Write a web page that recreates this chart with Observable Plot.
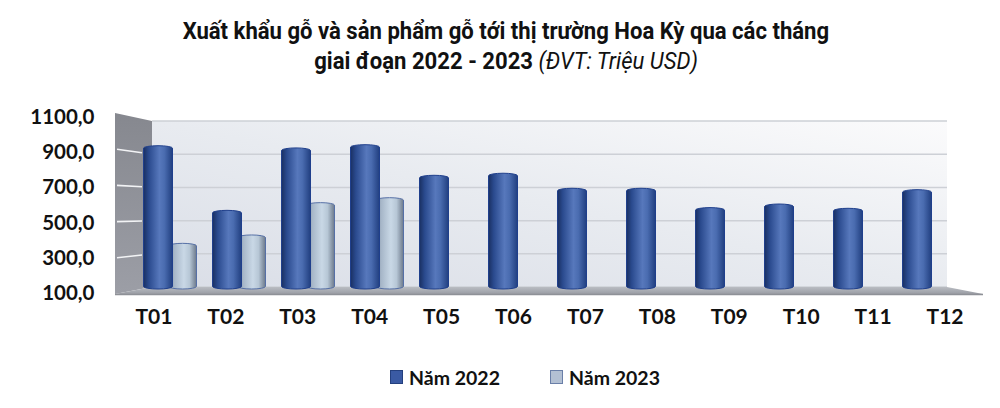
<!DOCTYPE html>
<html>
<head>
<meta charset="utf-8">
<script src="https://cdn.jsdelivr.net/npm/d3@7"></script>
<script src="https://cdn.jsdelivr.net/npm/@observablehq/plot@0.6"></script>
<style>
  body { margin: 0; background: #fff; width: 1000px; height: 408px; overflow: hidden; }
  #title { height: 88px; box-sizing: border-box; padding-top: 16px; padding-left: 12px; text-align: center;
           font-family: Roboto, sans-serif; font-weight: 700; font-size: 23.5px; line-height: 30px; color: #111; }
  #title .t { display: inline-block; transform: scaleX(0.94); white-space: nowrap; }
  #title i { font-weight: 400; }
  #chart svg { display: block; }
  #legend { height: 54px; box-sizing: border-box; padding-left: 50px; display: flex; justify-content: center;
            align-items: center; gap: 50px; font: 700 19.5px Lato, sans-serif; color: #111; }
  #legend .item { display: flex; align-items: center; gap: 6px; }
  #legend .sw { width: 13px; height: 14px; box-sizing: border-box; border: 1px solid; }
</style>
</head>
<body>
<div id="title">
  <span class="t">Xuất khẩu gỗ và sản phẩm gỗ tới thị trường Hoa Kỳ qua các tháng</span><br>
  <span class="t">giai đoạn 2022 - 2023 <i>(ĐVT: Triệu USD)</i></span>
</div>
<div id="chart"></div>
<div id="legend">
  <div class="item"><span class="sw" style="background:#3a5aa3;border-color:#24407e"></span>Năm 2022</div>
  <div class="item"><span class="sw" style="background:#b3c0d3;border-color:#6a7fa8"></span>Năm 2023</div>
</div>
<script>
// ---- data ----
const months = ["T01","T02","T03","T04","T05","T06","T07","T08","T09","T10","T11","T12"];
const values2022 = [938, 560, 925, 944, 765, 777, 689, 689, 576, 597, 572, 681];
const values2023 = [367, 416, 605, 634];
const yTicks = [100, 300, 500, 700, 900, 1100];

const rows2022 = months.map((m, i) => ({month: m, value: values2022[i]}));
const rows2023 = values2023.map((v, i) => ({month: months[i], value: v}));

// perspective helpers (3D look): stretch positions around a fixed point
const p1 = (v, c, k) => c + (v - c) * k;
const persp = (ch, c, k) => (index, scales, values, dimensions, context, next) =>
  next(index, scales, {...values, [ch]: Array.from(values[ch], v => p1(v, c, k))}, dimensions, context);

function decor(index, scales, values, dims) {
  const {width, marginLeft, marginRight} = dims;
  const L = marginLeft, R = width - marginRight;
  const y = scales.y;
  const yBack = v => p1(y(v), 134, 0.971);
  const yFront = v => p1(y(v), 115.6, 1.0585);
  const top = yTicks[yTicks.length - 1], base = yTicks[0];
  const wl = L + 17, wr = R - 17, fl = L - 20, fr = R + 19;
  const g = d3.create("svg:g");
  const defs = g.append("defs");
  const grad = (id, stops, x1 = 0, y1 = 0, x2 = 1, y2 = 0) => {
    const lg = defs.append("linearGradient").attr("id", id)
      .attr("x1", x1).attr("y1", y1).attr("x2", x2).attr("y2", y2);
    stops.forEach(([o, c]) => lg.append("stop").attr("offset", o).attr("stop-color", c));
  };
  grad("wall", [[0, "#dadee7"], [0.5, "#e8ebf0"], [1, "#fbfbfc"]], 0, 1, 1, 0);
  grad("lwall", [[0, "#86888f"], [1, "#9c9ea6"]], 0, 0, 0, 1);
  grad("floor", [[0, "#b9bcc2"], [1, "#9a9da4"]], 0, 0, 0, 1);
  grad("g22", [[0, "#1a3062"], [0.18, "#2a4a8e"], [0.55, "#5778bc"], [0.72, "#4a6cb0"], [1, "#213f80"]]);
  grad("g23", [[0, "#79869a"], [0.2, "#a6b6c8"], [0.55, "#c9d8e6"], [0.75, "#b7c7d6"], [1, "#6c798b"]]);

  g.append("rect").attr("x", wl).attr("y", yBack(top)).attr("width", wr - wl)
    .attr("height", yBack(base) - yBack(top)).attr("fill", "url(#wall)");
  yTicks.forEach(v => g.append("line").attr("x1", wl).attr("x2", wr)
    .attr("y1", yBack(v)).attr("y2", yBack(v)).attr("stroke", "#cdd0d6").attr("stroke-width", 1.5));
  g.append("polygon").attr("points",
    [[fl, yFront(top)], [wl, yBack(top)], [wl, yBack(base)], [fl, yFront(base)]].join(" "))
    .attr("fill", "url(#lwall)");
  yTicks.slice(1, -1).forEach(v => {
    const yf = yFront(v), yb = yBack(v);
    g.append("line").attr("x1", fl + 2).attr("x2", fl + 27)
      .attr("y1", yf).attr("y2", yf + (yb - yf) * 0.7)
      .attr("stroke", "#f2f3f5").attr("stroke-width", 1.6);
  });
  g.append("polygon").attr("points",
    [[fl, yFront(base)], [fr, yFront(base)], [wr, yBack(base)], [wl, yBack(base)]].join(" "))
    .attr("fill", "url(#floor)");
  g.append("line").attr("x1", fl).attr("x2", fr).attr("y1", yFront(base) + 0.5).attr("y2", yFront(base) + 0.5)
    .attr("stroke", "#8e9197").attr("stroke-width", 1.5);
  return g.node();
}

const chart = Plot.plot({
  width: 1000,
  height: 262,
  marginLeft: 135,
  marginRight: 36,
  marginTop: 30,
  marginBottom: 61,
  style: {background: "transparent", overflow: "visible"},
  x: {type: "band", domain: months, paddingInner: 0.58, paddingOuter: 0.29, axis: null},
  y: {domain: [100, 1100], axis: null},
  marks: [
    decor,
    Plot.barY(rows2023, {x: "month", y1: 100, y2: "value", dx: 12.5, insetRight: 1,
      fill: "url(#g23)", stroke: "#5670a6", strokeWidth: 1, rx: 14, ry: 2.5}),
    Plot.barY(rows2022, {x: "month", y1: 100, y2: "value", dx: -12.5,
      fill: "url(#g22)", stroke: "#1f3f8c", strokeWidth: 1, rx: 14.5, ry: 2.5}),
    Plot.text(months, {x: d => d, text: d => d, frameAnchor: "bottom", dy: 34,
      fontSize: 21, fontWeight: 700, fontFamily: "Lato", fill: "#111",
      render: persp("x", 560, 1.0423)}),
    Plot.text(yTicks, {y: d => d, text: d => d.toFixed(1).replace(".", ","),
      frameAnchor: "left", dx: -41, textAnchor: "end",
      fontSize: 20.5, fontWeight: 700, fontFamily: "Lato", fill: "#111",
      render: persp("y", 64, 1.029)})
  ]
});
document.getElementById("chart").appendChild(chart);
</script>
</body>
</html>
